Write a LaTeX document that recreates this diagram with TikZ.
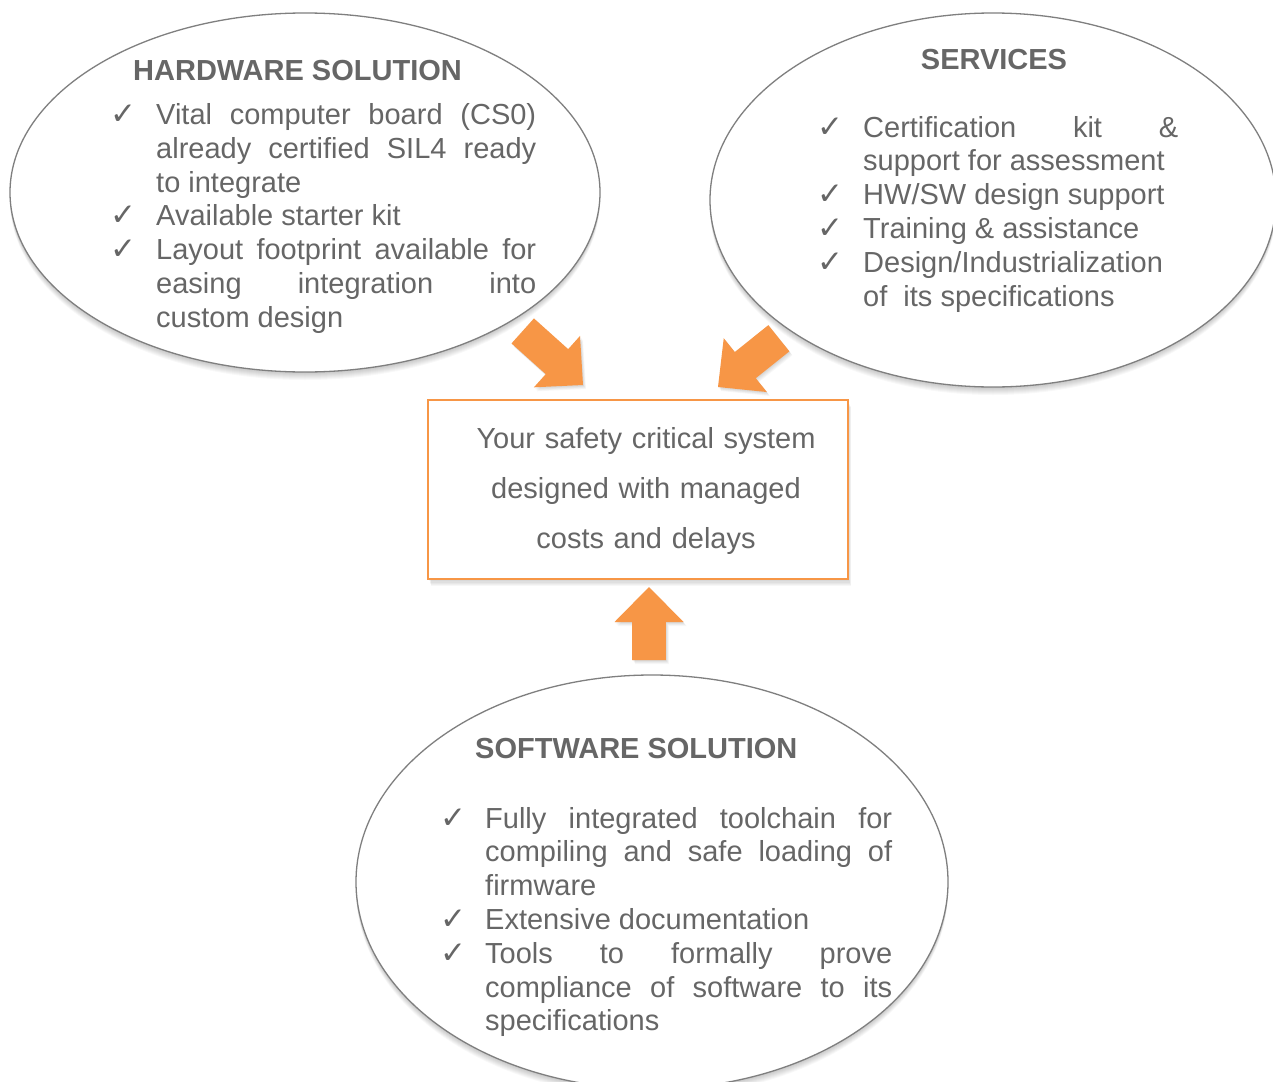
\documentclass[tikz,border=0pt]{standalone}
\usepackage{fontspec}
\setmainfont{Liberation Sans}
\newfontfamily\chkfont{DejaVu Sans}
\usetikzlibrary{shapes.geometric}

\definecolor{txtgray}{HTML}{666666}
\definecolor{rimgray}{HTML}{7F7F7F}
\definecolor{accent}{HTML}{F79646}

% check-mark bullet and a hanging-indent list entry
\newcommand\chkmark{{\chkfont\fontsize{31pt}{31pt}\selectfont ✓}}
\newcommand\chkitem[2]{\par\noindent\hangindent=#1\hangafter=1
  \makebox[#1][l]{\chkmark}#2\par}

% soft shadow under an ellipse: centre x, centre y, x radius, y radius
\newcommand\ellshadow[4]{%
  \foreach \k in {1,...,8}{%
    \fill[black, opacity=0.028] (#1,#2+\k) ellipse [x radius=#3, y radius=#4];}}

% orange block arrow: tip coordinate, direction angle, total length
\newcommand\blockarrow[3]{%
  \foreach \k in {1,...,5}{%
    \fill[black, opacity=0.03, shift={(#1)}, xshift={\k*0.6pt}, yshift={-\k*0.8pt}, rotate=#2]
      (0,0) -- (-35,34.5) -- (-35,16.8) -- (-#3,16.8) -- (-#3,-16.8) -- (-35,-16.8) -- (-35,-34.5) -- cycle;}
  \fill[accent, shift={(#1)}, rotate=#2]
    (0,0) -- (-35,34.5) -- (-35,16.8) -- (-#3,16.8) -- (-#3,-16.8) -- (-35,-16.8) -- (-35,-34.5) -- cycle;}

\begin{document}
\begin{tikzpicture}[x=1pt, y=-1pt,
  bubble/.style={ellipse, draw=rimgray, line width=1.3pt, fill=white, inner sep=0pt},
  heading/.style={inner sep=0pt, text=txtgray, font=\bfseries\fontsize{29pt}{33.8pt}\selectfont},
  listtext/.style={anchor=north west, inner sep=0pt, align=justify, text=txtgray,
    font=\fontsize{29pt}{33.8pt}\selectfont},
  goalbox/.style={draw=accent, line width=1.6pt, fill=white, inner sep=0pt}]

\useasboundingbox (0,0) rectangle (1273,1081);
\clip (0,0) rectangle (1273,1081);
\fill[white] (0,0) rectangle (1273,1081);

% three bubbles
\ellshadow{305}{192.5}{295}{179.5}
\ellshadow{993}{200}{283}{187}
\ellshadow{652}{882}{296}{207}
\node[bubble, minimum width=590pt, minimum height=359pt] (hw) at (305,192.5) {};
\node[bubble, minimum width=566pt, minimum height=374pt] (svc) at (993,200) {};
\node[bubble, minimum width=592pt, minimum height=414pt] (sw) at (652,882) {};

% central goal box
\foreach \k in {1,...,6}{%
  \fill[black, opacity=0.03] (428+\k*0.5,400+\k*1.2) rectangle (848+\k*0.5,579+\k*1.2);}
\node[goalbox, minimum width=420pt, minimum height=179pt] (goal) at (638,489.5) {};

% arrows pointing to the goal box
\coordinate (tipL) at (583,385);
\coordinate (tipR) at (718,387);
\coordinate (tipU) at (649,587);
\blockarrow{tipL}{-41.9}{81}
\blockarrow{tipR}{-141.3}{78}
\blockarrow{tipU}{90}{73}

% hardware bubble text
\node[heading, anchor=base west] (hwtitle) at (133,80) {HARDWARE SOLUTION};
\node[listtext, text width=426pt] (hwlist) at (110,90.5) {%
  \chkitem{46pt}{\rule{0pt}{24pt}Vital computer board (CS0)\linebreak already certified SIL4 ready\linebreak to integrate}%
  \chkitem{46pt}{Available starter kit}%
  \chkitem{46pt}{Layout footprint available for\linebreak easing integration into\linebreak custom design}};

% services bubble text
\node[heading, anchor=base] (svctitle) at (994,70) {SERVICES};
\node[listtext, text width=361pt] (svclist) at (817,103) {%
  \chkitem{46pt}{\rule{0pt}{24pt}Certification kit \&\linebreak support for assessment}%
  \chkitem{46pt}{HW/SW design support}%
  \chkitem{46pt}{Training \& assistance}%
  \chkitem{46pt}{Design/Industrialization\linebreak of\ \ its specifications}};

% software bubble text
\node[heading, anchor=base west] (swtitle) at (475,758) {SOFTWARE SOLUTION};
\node[listtext, text width=452pt] (swlist) at (440,794) {%
  \chkitem{45pt}{\rule{0pt}{24pt}Fully integrated toolchain for\linebreak compiling and safe loading of\linebreak firmware}%
  \chkitem{45pt}{Extensive documentation}%
  \chkitem{45pt}{Tools to formally prove\linebreak compliance of software to its\linebreak specifications}};

% goal box text
\node[anchor=north, inner sep=0pt, text width=420pt, align=center, text=txtgray,
  font=\fontsize{29pt}{50pt}\selectfont] (goaltext) at (646,424)
  {\rule{0pt}{24pt}Your safety critical system\\ designed with managed\\ costs and delays};
\end{tikzpicture}
\end{document}
